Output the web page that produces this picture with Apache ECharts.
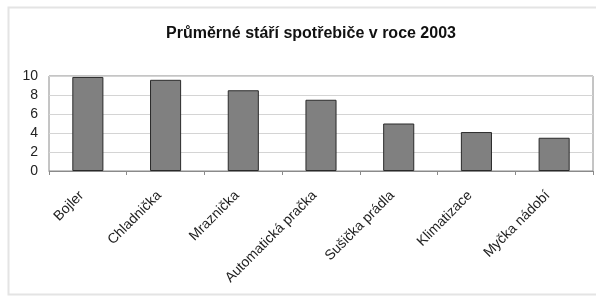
<!DOCTYPE html>
<html><head><meta charset="utf-8">
<script src="https://cdn.jsdelivr.net/npm/echarts@6/dist/echarts.min.js"></script>
<style>html,body{margin:0;padding:0;background:#fff}#c{width:596px;height:297px}</style>
</head><body><div id="c"></div>
<script>
const categories = ["Bojler","Chladnička","Mraznička","Automatická pračka","Sušička prádla","Klimatizace","Myčka nádobí"];
const values = [9.9, 9.6, 8.5, 7.5, 5.0, 4.1, 3.5];
const yTicks = [0, 2, 4, 6, 8, 10];

const chart = echarts.init(document.getElementById('c'), null, {renderer:'canvas'});
chart.setOption({
  animation:false,
  backgroundColor:'#fff',
  title:{text:'Průměrné stáří spotřebiče v roce 2003', left:306, top:21, textAlign:'center',
    textStyle:{fontFamily:'Liberation Sans, Arial', fontWeight:'bold', fontSize:16, color:'#111'}},
  graphic:[{type:'rect', shape:{x:8.5,y:7.5,width:620,height:287}, style:{fill:'none', stroke:'#e4e4e4', lineWidth:2}, z:-1}],
  grid:{left:49, top:76, width:544, height:95, show:true, borderColor:'#8a8a8a', borderWidth:1, backgroundColor:'#fff'},
  xAxis:{type:'category', data:categories, boundaryGap:true,
    axisLine:{lineStyle:{color:'#8a8a8a'}},
    axisTick:{show:true, length:4, lineStyle:{color:'#8a8a8a'}},
    axisLabel:{rotate:45, fontFamily:'Liberation Sans, Arial', fontSize:14, color:'#222', margin:16, padding:[0,9,0,0], interval:0}},
  yAxis:{type:'value', min:yTicks[0], max:yTicks[yTicks.length-1], interval:2,
    axisLine:{show:false}, axisTick:{show:false},
    splitLine:{lineStyle:{color:'#d4d4d4'}},
    axisLabel:{fontFamily:'Liberation Sans, Arial', fontSize:14, color:'#222', margin:11}},
  series:[{type:'bar', data:values, barWidth:'40%',
    itemStyle:{color:'#808080', borderColor:'#2a2a2a', borderWidth:1}}]
});
</script></body></html>
